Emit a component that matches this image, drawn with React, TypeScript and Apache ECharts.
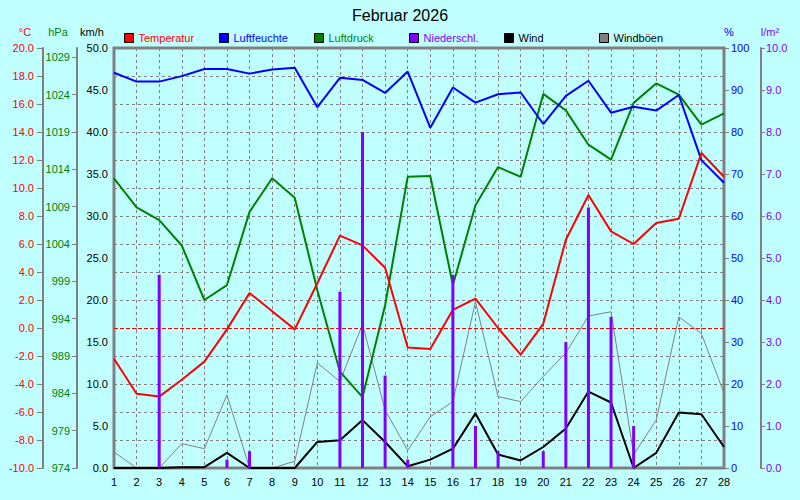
import React, { useEffect, useRef } from "react";
import * as echarts from "echarts";

const title = "Februar 2026";
const days = [1, 2, 3, 4, 5, 6, 7, 8, 9, 10, 11, 12, 13, 14, 15, 16, 17, 18, 19, 20, 21, 22, 23, 24, 25, 26, 27, 28];
const temperature = [-2.2, -4.7, -4.9, -3.7, -2.4, -0.1, 2.5, 1.2, -0.1, 3.2, 6.6, 5.9, 4.3, -1.4, -1.5, 1.3, 2.1, 0.0, -1.9, 0.3, 6.3, 9.5, 6.9, 6.0, 7.5, 7.8, 12.5, 10.8];
const humidity = [94.1, 92.0, 92.0, 93.3, 95.0, 95.0, 93.9, 94.9, 95.3, 85.9, 92.9, 92.4, 89.3, 94.4, 81.0, 90.6, 87.0, 89.0, 89.4, 81.9, 88.6, 92.2, 84.6, 86.0, 85.1, 88.8, 73.3, 67.9];
const pressure = [1012.8, 1008.9, 1007.2, 1003.8, 996.5, 998.5, 1008.3, 1012.8, 1010.2, 997.8, 986.9, 983.5, 995.8, 1013.0, 1013.1, 998.5, 1009.2, 1014.3, 1013.0, 1024.1, 1021.9, 1017.3, 1015.3, 1022.9, 1025.5, 1024.0, 1020.0, 1021.5];
const precipitation = [0, 0, 4.6, 0, 0, 0.2, 0.4, 0, 0, 0, 4.2, 8.0, 2.2, 0.2, 0, 4.6, 1.0, 0.4, 0, 0.4, 3.0, 6.2, 3.6, 1.0, 0, 0, 0, 0];
const wind = [0, 0, 0, 0.1, 0.1, 1.8, 0, 0, 0, 3.1, 3.3, 5.7, 3.1, 0.2, 1.0, 2.3, 6.5, 1.6, 0.9, 2.5, 4.7, 9.1, 7.8, 0, 1.8, 6.6, 6.4, 2.5];
const gusts = [1.9, 0, 0, 2.9, 2.3, 8.7, 0, 0, 0.8, 12.5, 10.3, 17.1, 6.9, 2.1, 6.1, 7.9, 19.8, 8.5, 7.9, 10.9, 13.7, 18.1, 18.6, 1.6, 5.7, 18.0, 16.0, 8.9];

const seriesNames = ["Temperatur", "Luftfeuchte", "Luftdruck", "Niederschl.", "Wind", "Windböen"];
const seriesColors = ["#ff0000", "#0000ff", "#008000", "#8000ff", "#000000", "#808080"];
const legendTextColors = ["#ff0000", "#0000ff", "#008000", "#8000ff", "#000000", "#000000"];
const unitLabels = ["°C", "hPa", "km/h", "%", "l/m²"];
const unitColors = ["#ff0000", "#008000", "#000000", "#0000ff", "#8000ff"];

const P_MIN = 974;
const P_MAX = 1030.25;

const FONT = "'Liberation Sans', Arial, sans-serif";
const BG = "#c0ffff";
const GRAY = "#808080";

export default function App() {
  const ref = useRef<HTMLDivElement>(null);

  useEffect(() => {
    const chart = echarts.init(ref.current as HTMLDivElement, null, { renderer: "svg" });
    const pair = (vals: number[], off = 0) => days.map((d, i) => [d, +(vals[i] - off).toFixed(3)]);

    const unitX = [25, 58, 92, 729, 770];
    const legendX = [124, 219, 314, 409, 504, 599];

    const graphic: any[] = [];
    unitLabels.forEach((t, i) => {
      graphic.push({
        type: "text",
        x: unitX[i],
        y: 32,
        style: { text: t, fill: unitColors[i], fontSize: 11, fontFamily: FONT, align: "center", verticalAlign: "middle" },
      });
    });
    seriesNames.forEach((n, i) => {
      graphic.push({
        type: "rect",
        shape: { x: legendX[i] + 0.5, y: 33.5, width: 9, height: 9 },
        style: { fill: seriesColors[i], stroke: "#000", lineWidth: 1 },
      });
      graphic.push({
        type: "text",
        x: legendX[i] + 14.5,
        y: 38,
        style: { text: n, fill: legendTextColors[i], fontSize: 11, fontFamily: FONT, align: "left", verticalAlign: "middle" },
      });
    });

    const lineBase = (name: string, color: string, width: number, yAxisIndex: number, data: any, z: number) => ({
      name,
      type: "line",
      xAxisIndex: 0,
      yAxisIndex,
      data,
      symbol: "none",
      showSymbol: false,
      lineStyle: { color, width },
      itemStyle: { color },
      z,
    });

    const pressureTicks = [0, 5, 10, 15, 20, 25, 30, 35, 40, 45, 50, 55];

    const option: any = {
      animation: false,
      backgroundColor: BG,
      textStyle: { fontFamily: FONT },
      title: {
        text: title,
        left: "center",
        top: 7,
        padding: 0,
        textStyle: { fontSize: 16, fontWeight: "normal", color: "#000", fontFamily: FONT },
      },
      grid: {
        left: 114,
        right: 76,
        top: 48,
        bottom: 32,
        show: true,
        borderColor: GRAY,
        borderWidth: 3,
        backgroundColor: BG,
      },
      xAxis: {
        type: "value",
        min: 1,
        max: 28,
        interval: 1,
        axisLine: { show: false },
        axisTick: { show: true, length: 4, lineStyle: { color: GRAY, width: 1 } },
        axisLabel: { color: "#000", fontSize: 11, margin: 8, fontFamily: FONT },
        splitLine: { show: true, lineStyle: { color: GRAY, type: [3, 3], width: 1 } },
      },
      yAxis: [
        {
          type: "value",
          position: "left",
          offset: 71,
          min: -10,
          max: 20,
          interval: 2,
          axisLine: { show: true, lineStyle: { color: GRAY, width: 2 } },
          axisTick: { show: true, length: 6, lineStyle: { color: GRAY, width: 1 } },
          axisLabel: { color: "#ff0000", fontSize: 11, margin: 9, fontFamily: FONT, formatter: (v: number) => v.toFixed(1) },
          splitLine: { show: true, lineStyle: { color: GRAY, type: [3, 3], width: 1 } },
        },
        {
          type: "value",
          position: "left",
          offset: 37,
          min: 0,
          max: P_MAX - P_MIN,
          interval: 5,
          axisLine: { show: true, lineStyle: { color: GRAY, width: 2 } },
          axisTick: { show: true, length: 5, lineStyle: { color: GRAY, width: 1 }, customValues: pressureTicks },
          axisLabel: {
            color: "#008000",
            fontSize: 11,
            margin: 7,
            fontFamily: FONT,
            customValues: pressureTicks,
            formatter: (v: number) => (Math.abs(v % 5) < 1e-6 ? String(Math.round(v + P_MIN)) : ""),
          },
          splitLine: { show: false },
        },
        {
          type: "value",
          position: "left",
          offset: 0,
          min: 0,
          max: 50,
          interval: 5,
          axisLine: { show: false },
          axisTick: { show: false },
          axisLabel: { color: "#000", fontSize: 11, margin: 6, fontFamily: FONT, formatter: (v: number) => v.toFixed(1) },
          splitLine: { show: false },
        },
        {
          type: "value",
          position: "right",
          offset: 0,
          min: 0,
          max: 100,
          interval: 10,
          axisLine: { show: false },
          axisTick: { show: true, length: 5, lineStyle: { color: GRAY, width: 1 } },
          axisLabel: { color: "#0000ff", fontSize: 11, margin: 7, fontFamily: FONT },
          splitLine: { show: false },
        },
        {
          type: "value",
          position: "right",
          offset: 37,
          min: 0,
          max: 10,
          interval: 1,
          axisLine: { show: true, lineStyle: { color: GRAY, width: 2 } },
          axisTick: { show: true, length: 4, lineStyle: { color: GRAY, width: 1 } },
          axisLabel: { color: "#8000ff", fontSize: 11, margin: 5, fontFamily: FONT, formatter: (v: number) => v.toFixed(1) },
          splitLine: { show: false },
        },
      ],
      series: [
        lineBase(seriesNames[5], seriesColors[5], 1, 2, pair(gusts), 2),
        lineBase(seriesNames[4], seriesColors[4], 2, 2, pair(wind), 3),
        lineBase(seriesNames[2], seriesColors[2], 2, 1, pair(pressure, P_MIN), 4),
        lineBase(seriesNames[1], seriesColors[1], 2, 3, pair(humidity), 5),
        {
          ...lineBase(seriesNames[0], seriesColors[0], 2, 0, pair(temperature), 6),
          markLine: {
            silent: true,
            symbol: ["none", "none"],
            label: { show: false },
            lineStyle: { color: "#ff0000", type: [4, 2], width: 1 },
            data: [{ yAxis: 0 }],
          },
        },
        {
          name: seriesNames[3],
          type: "bar",
          xAxisIndex: 0,
          yAxisIndex: 4,
          data: pair(precipitation),
          barWidth: 3,
          itemStyle: { color: seriesColors[3] },
          z: 7,
        },
      ],
      graphic,
    };

    chart.setOption(option);
    return () => chart.dispose();
  }, []);

  return <div ref={ref} style={{ position: "fixed", left: 0, top: 0, width: 800, height: 500 }} />;
}
